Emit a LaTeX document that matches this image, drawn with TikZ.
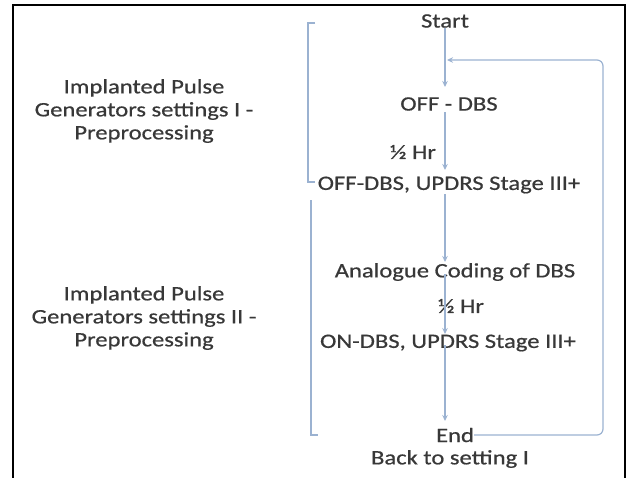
\documentclass[tikz,border=0pt]{standalone}
\usepackage{fontspec}
\setmainfont{Carlito}[FakeStretch=1.2,FakeBold=0.6]
\usetikzlibrary{arrows.meta,calc}
\definecolor{txt}{HTML}{383838}
\definecolor{ln}{HTML}{9BB2D1}
\begin{document}
\begin{tikzpicture}[x=1pt,y=-1pt,
  lbl/.style={text=txt, font=\fontsize{20.5}{23}\selectfont, inner sep=0pt, align=center},
  flow/.style={draw=ln, line width=1.2pt, -{Stealth[length=6pt,width=5.5pt]}},
  brk/.style={draw=ln, line width=1.2pt},
  frame/.style={draw=black, line width=2pt}]
\useasboundingbox (0,0) rectangle (631,477);
\draw[frame] (12.5,478) -- (12.5,5) -- (625,5) -- (625,478);

\node[lbl] (start) at (445,21) {Start};
\node[lbl] (off) at (449,104) {OFF - DBS};
\node[lbl] (h1) at (413,152) {½ Hr};
\node[lbl] (u1) at (449,185) {OFF-DBS, UPDRS Stage III+};
\node[lbl] (ana) at (455,272) {Analogue Coding of DBS};
\node[lbl] (h2) at (461,306) {½ Hr};
\node[lbl] (on) at (448,343) {ON-DBS, UPDRS Stage III+};
\node[lbl] (end) at (455,435) {End};
\node[lbl] (back) at (450,459) {Back to setting I};
\node[lbl] (s1) at (144,111) {Implanted Pulse\\Generators settings I -\\Preprocessing};
\node[lbl] (s2) at (144,318) {Implanted Pulse\\Generators settings II -\\Preprocessing};

\coordinate (ax) at (445,0);
\coordinate (lr) at (603,0);
\coordinate (loopin) at (447,60);

\draw[flow] ($(start.center -| ax)+(0,7)$) -- ($(off.center -| ax)+(0,-17)$);
\draw[flow] ($(off.center -| ax)+(0,8)$) -- ($(u1.center -| ax)+(0,-15)$);
\draw[flow] ($(u1.center -| ax)+(0,9)$) -- ($(ana.center -| ax)+(0,-10)$);
\draw[flow] ($(ana.center -| ax)+(0,2)$) -- ($(on.center -| ax)+(0,-9)$);
\draw[flow] ($(on.center -| ax)+(0,2)$) -- ($(end.center -| ax)+(0,-14)$);
\draw[flow, rounded corners=6pt] (end.east) -- (end.east -| lr) -- (loopin -| lr) -- (loopin);

\draw[brk] (315,23) -- (308,23) -- (308,182) -- (315,182);
\draw[brk] (311,200) -- (311,435) -- (318,435);
\end{tikzpicture}
\end{document}
